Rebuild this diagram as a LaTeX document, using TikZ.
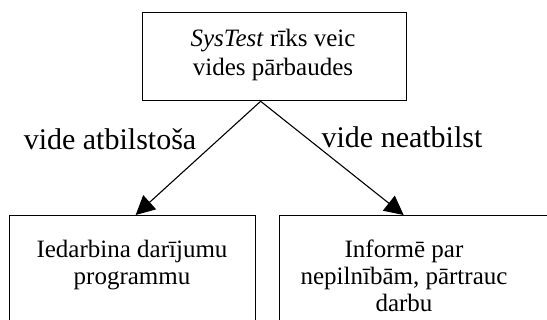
\documentclass[tikz,border=0pt]{standalone}
\usepackage{fontspec}
\setmainfont{Liberation Serif}
\usetikzlibrary{arrows.meta}
\begin{document}
\begin{tikzpicture}[x=1pt,y=-1pt,
  box/.style={draw=black,line width=1.3pt,fill=white,inner sep=0pt,anchor=north west},
  boxtext/.style={align=center,font=\fontsize{25}{27}\selectfont,inner sep=0pt,anchor=base},
  lbl/.style={font=\fontsize{30}{34}\selectfont,inner sep=0pt,anchor=base},
  conn/.style={line width=1.1pt,-{Triangle[length=19pt,width=19pt]}}]
\clip (0,0) rectangle (547,320);
\fill[white] (0,0) rectangle (547,320);
\node[box,minimum width=264pt,minimum height=88pt] (top) at (142,12) {};
\node[box,minimum width=246pt,minimum height=140pt] (left) at (9,215) {};
\node[box,minimum width=290pt,minimum height=140pt] (right) at (279,215) {};
\node[boxtext,font=\fontsize{25}{28.5}\selectfont] (toptext) at (273,75.5) {\textit{SysTest} rīks veic\\vides pārbaudes};
\node[boxtext] (lefttext) at (132,285) {Iedarbina darījumu\\programmu};
\node[boxtext] (righttext) at (404,312) {Informē par\\nepilnībām, pārtrauc\\darbu};
\coordinate (apex) at ([xshift=-14pt]top.south);
\coordinate (ltip) at ([xshift=3pt]left.north);
\coordinate (rtip) at ([xshift=-21pt]right.north);
\draw[conn] (apex) -- (ltip);
\draw[conn] (apex) -- (rtip);
\node[lbl] (lab1) at (110,150) {vide atbilstoša};
\node[lbl] (lab2) at (402,148) {vide neatbilst};
\end{tikzpicture}
\end{document}
